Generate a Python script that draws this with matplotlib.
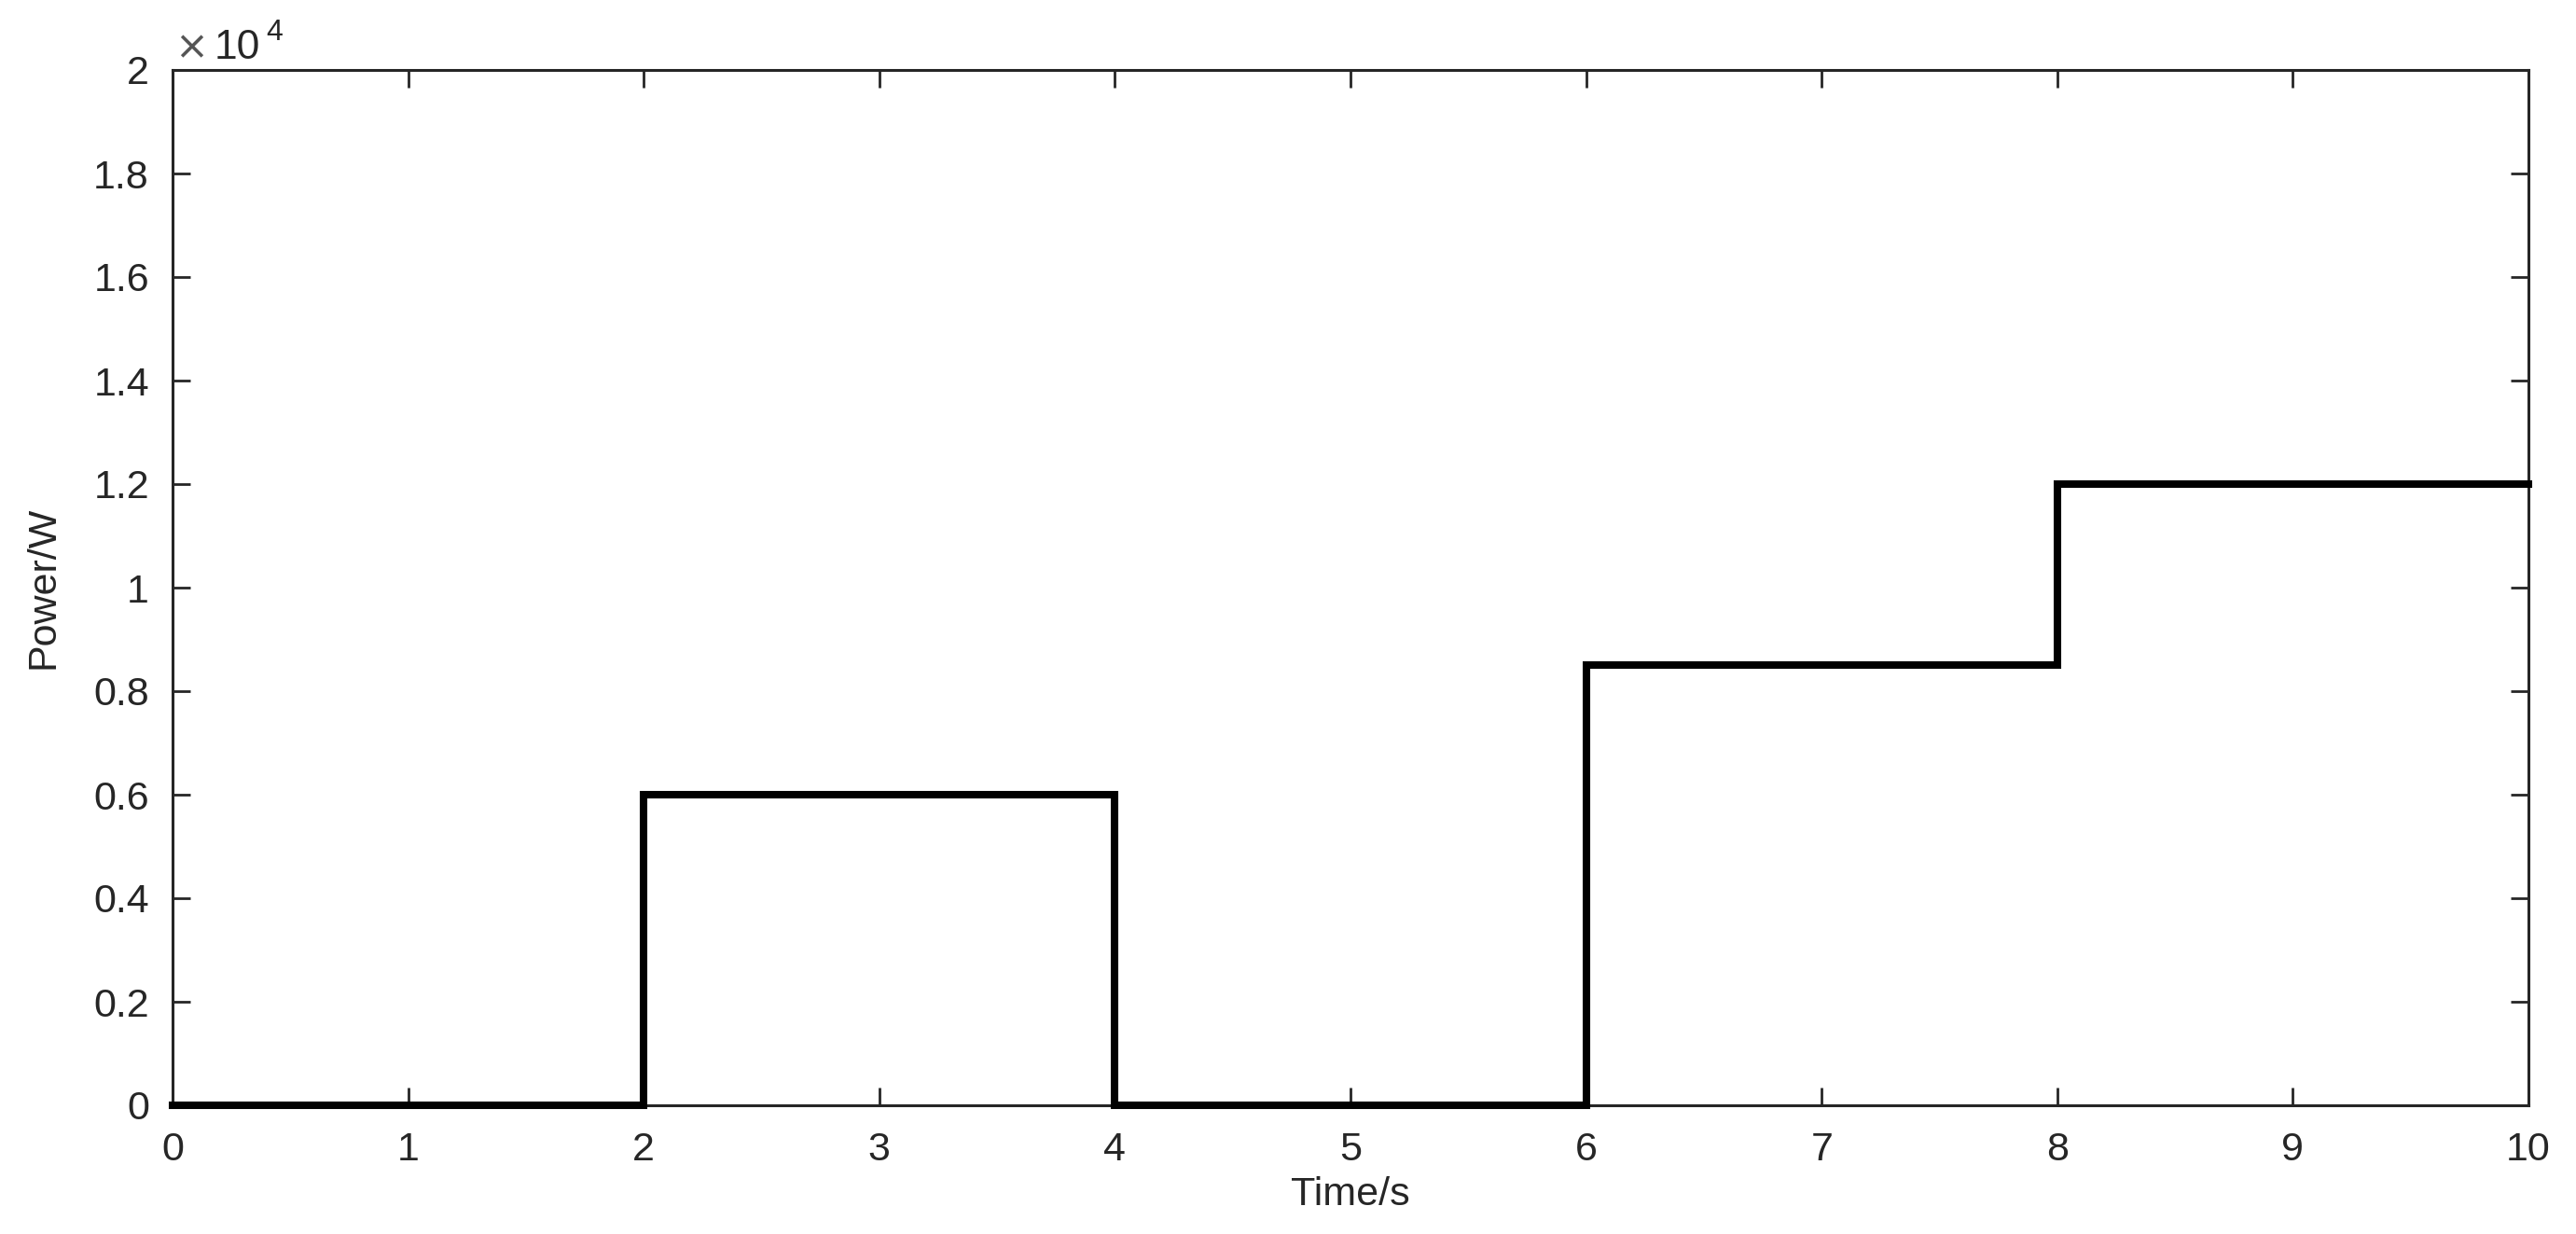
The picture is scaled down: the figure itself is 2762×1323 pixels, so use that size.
import numpy as np
import matplotlib
matplotlib.use('Agg')
import matplotlib.pyplot as plt
from matplotlib.ticker import FuncFormatter

# step profile: power switches at these times
time_s = [0, 2, 4, 6, 8, 10]
power_w = [0, 6000, 0, 8500, 12000, 12000]

x_ticks = list(range(0, 11))
y_ticks = [i * 2000 for i in range(11)]

plt.rcParams['font.family'] = ['Liberation Sans', 'DejaVu Sans']
fig = plt.figure(figsize=(27.62, 13.23), dpi=100)
ax = fig.add_axes([185 / 2762, 1 - 1185 / 1323, (2711 - 185) / 2762, (1185 - 75) / 1323])

ax.plot(time_s, power_w, drawstyle='steps-post', color='black', linewidth=5.8,
        solid_joinstyle='miter', clip_on=False, zorder=3)

ax.set_xlim(0, 10)
ax.set_ylim(0, 20000)
ax.set_xticks(x_ticks)
ax.set_yticks(y_ticks)
ax.yaxis.set_major_formatter(FuncFormatter(lambda v, p: '%g' % (v / 1e4)))

axis_color = '#262626'
for s in ax.spines.values():
    s.set_linewidth(2.2)
    s.set_color(axis_color)
ax.tick_params(direction='in', length=14, width=2, colors=axis_color,
               labelsize=31, top=True, right=True)
ax.tick_params(axis='x', pad=20)
ax.tick_params(axis='y', pad=18)

ax.set_xlabel('Time/s', fontsize=31, color=axis_color, labelpad=6)
ax.set_ylabel('Power/W', fontsize=31, color=axis_color, labelpad=24)

# MATLAB-style exponent label above the y axis
ax.annotate('\u00d7', xy=(0.001, 1), xycoords='axes fraction', xytext=(0, 8.5),
            textcoords='offset points', fontsize=31, color='#555555',
            ha='left', va='baseline', fontfamily='DejaVu Sans')
ax.annotate('10', xy=(0.0175, 1), xycoords='axes fraction', xytext=(0, 8.5),
            textcoords='offset points', fontsize=32, color=axis_color,
            ha='left', va='baseline')
ax.annotate('4', xy=(0.0396, 1), xycoords='axes fraction', xytext=(0, 23),
            textcoords='offset points', fontsize=23, color=axis_color,
            ha='left', va='baseline')

fig.savefig('out.png', dpi=100)
